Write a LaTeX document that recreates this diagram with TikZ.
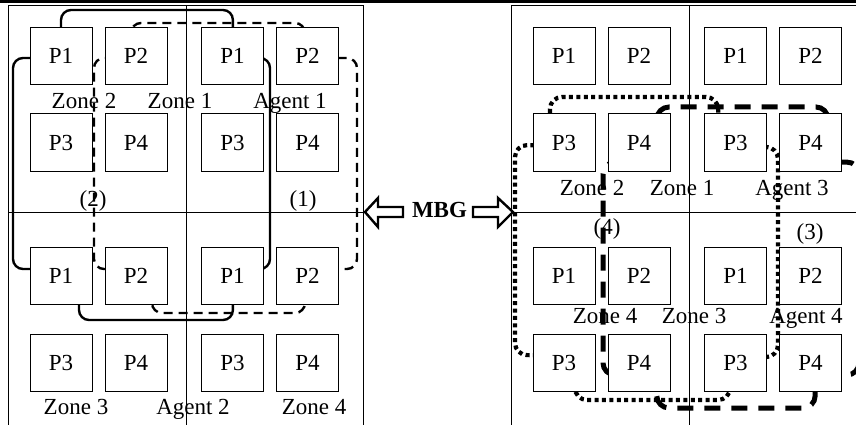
\documentclass[tikz,border=0pt]{standalone}
\usepackage{fontspec}
\setmainfont{Liberation Serif}
\usetikzlibrary{backgrounds}

\begin{document}
\begin{tikzpicture}[x=1pt,y=-1pt,font=\fontsize{23}{27}\selectfont,
      pb/.style={draw,fill=white,line width=1pt,minimum width=62pt,
                 minimum height=57pt,inner sep=0pt},
      lab/.style={inner sep=0pt,anchor=base},
      frm/.style={line width=1pt},
      agA/.style={line width=2.4pt,rounded corners=10pt},
      agB/.style={line width=2.4pt,dash pattern=on 9pt off 6pt,rounded corners=10pt},
      agC/.style={line width=5pt,dash pattern=on 16pt off 11pt,rounded corners=12pt},
      agD/.style={line width=4.2pt,dash pattern=on 4pt off 3.4pt,rounded corners=12pt},
      hollow/.style={line width=2.4pt,line join=miter,fill=white}]
    \useasboundingbox (0,0) rectangle (856,425);

    % processor boxes, two panels x four zones
    \foreach \pn/\px in {l/0,r/503}{
      \foreach \q/\qx/\qy in {tl/0/0,tr/171.5/0,bl/0/220,br/171.5/220}{
        \node[pb] (\pn\q1) at (61+\px+\qx,56+\qy)    {P1};
        \node[pb] (\pn\q2) at (136+\px+\qx,56+\qy)   {P2};
        \node[pb] (\pn\q3) at (61+\px+\qx,142.5+\qy) {P3};
        \node[pb] (\pn\q4) at (136+\px+\qx,142.5+\qy){P4};
      }
    }

    \begin{scope}[on background layer]
      \fill (0,0) rectangle (856,3.5);
      % panel frames
      \draw[frm] (8,6) rectangle (363,440);
      \draw[frm] (186,6) -- (186,440) (8,212) -- (363,212);
      \draw[frm] (511,6) rectangle (880,440);
      \draw[frm] (689,6) -- (689,440) (511,212) -- (880,212);

      % (2) solid
      \draw[agA] (ltl1.center) -- (61,10) -- (233,10) -- (ltr1.center);
      \draw[agA] ([yshift=-2pt]ltr1.center) -- (270,58) -- (270,269) -- ([yshift=7pt]lbr1.center);
      \draw[agA] (lbr1.center) -- (233,320) -- (79,320) -- ([xshift=18pt]lbl1.center);
      \draw[agA] ([yshift=7pt]lbl1.center) -- (13,269) -- (13,58) -- ([yshift=-2pt]ltl1.center);
      % (1) dashed
      \draw[agB] ([xshift=-5pt]ltl2.center) -- (131,23) -- (305,23) -- ([xshift=-2.5pt]ltr2.center);
      \draw[agB] ([yshift=-2pt]ltr2.center) -- (357,58) -- (357,269) -- ([yshift=7pt]lbr2.center);
      \draw[agB] ([xshift=-2.5pt]lbr2.center) -- (305,313) -- (152,313) -- ([xshift=16pt]lbl2.center);
      \draw[agB] ([yshift=7pt]lbl2.center) -- (94,269) -- (94,58) -- ([yshift=-2pt]ltl2.center);
      % (4) dotted
      \draw[agD] ([xshift=-14pt]rtl3.center) -- (550,97) -- (718,97) -- ([xshift=-17pt]rtr3.center);
      \draw[agD] ([yshift=-3pt]rtl3.center) -- (515,145) -- (515,355) -- ([yshift=7pt]rbl3.center);
      \draw[agD] ([xshift=11pt]rbl3.center) -- (575,400) -- (730,400) -- ([xshift=-5pt]rbr3.center);
      \draw[agD] ([yshift=5pt]rbr3.center) -- (778,357) -- (778,147) -- ([yshift=-4pt]rtr3.center);
      % (3) long dashes
      \draw[agC] ([xshift=17pt]rtl4.center) -- (657,107) -- (828,107) -- ([xshift=17pt]rtr4.center);
      \draw[agC] ([yshift=-20pt]rtr4.center) -- (859,162) -- (859,375) -- ([yshift=-12pt]rbr4.center);
      \draw[agC] ([xshift=5pt]rbr4.center) -- (815,408) -- (657,408) -- ([xshift=17pt]rbl4.center);
      \draw[agC] ([yshift=-12pt]rbl4.center) -- (603,375) -- (603,162) -- ([yshift=-20pt]rtl4.center);
    \end{scope}

    % left panel labels
    \node[lab] (lz2) at (84,109)  {Zone 2};
    \node[lab] (lz1) at (180,109) {Zone 1};
    \node[lab] (la1) at (290,109) {Agent 1};
    \node[lab] (lc2) at (93,206)  {(2)};
    \node[lab] (lc1) at (303,206) {(1)};
    \node[lab] (lz3) at (76,414)  {Zone 3};
    \node[lab] (la2) at (193,414) {Agent 2};
    \node[lab] (lz4) at (314,414) {Zone 4};
    % right panel labels
    \node[lab] (rz2) at (592,195) {Zone 2};
    \node[lab] (rz1) at (682,195) {Zone 1};
    \node[lab] (ra3) at (792,195) {Agent 3};
    \node[lab] (rc4) at (607,234) {(4)};
    \node[lab] (rc3) at (810,239) {(3)};
    \node[lab] (rz4) at (605,323) {Zone 4};
    \node[lab] (rz3) at (694,323) {Zone 3};
    \node[lab] (ra4) at (806,323) {Agent 4};

    % MBG with hollow arrows
    \node[lab] (mbg) at (439.5,217) {\textbf{MBG}};
    \draw[hollow] (365,212) -- (378,198) -- (378,207) -- (403,207) -- (403,217)
                  -- (378,217) -- (378,227) -- cycle;
    \draw[hollow] (513,212) -- (498,198) -- (498,207) -- (473,207) -- (473,217)
                  -- (498,217) -- (498,227) -- cycle;
  \end{tikzpicture}
\end{document}
